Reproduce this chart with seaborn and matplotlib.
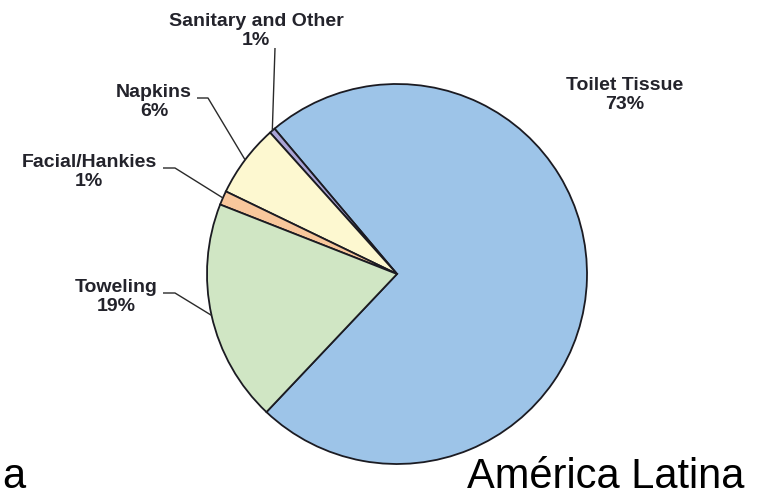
import numpy as np
import matplotlib
matplotlib.use("Agg")
import matplotlib.pyplot as plt
import seaborn as sns

# Data
categories = ["Toilet Tissue", "Sanitary and Other", "Napkins", "Facial/Hankies", "Toweling"]
shares = [73.2, 0.5, 6.2, 1.2, 18.9]
pct_labels = ["73%", "1%", "6%", "1%", "19%"]
colors = ["#9dc4e8", "#aaa4d6", "#fdf8d0", "#f8c79c", "#d0e6c4"]

sns.set_style("white")
plt.rcParams["font.family"] = ["Liberation Sans", "DejaVu Sans"]

W, H = 763, 498
fig = plt.figure(figsize=(W / 100, H / 100), dpi=100)
ax = fig.add_axes([0, 0, 1, 1])

# pixel helper: image y (top-down) -> data y (bottom-up)
def py(y):
    return H - y

cx, cy, r = 397, py(274), 190

wedges, _ = ax.pie(shares, colors=colors, startangle=226.6, counterclock=True,
                   center=(cx, cy), radius=r,
                   wedgeprops=dict(edgecolor="#1b1b22", linewidth=1.3))

ax.set_xlim(0, W)
ax.set_ylim(0, H)
ax.set_aspect("equal")
ax.axis("off")

# label layout: text centre, leader start, leader elbow (None = no leader)
layout = {
    "Toilet Tissue": ((625, 95), None, None),
    "Sanitary and Other": ((256, 31), (275, 48), None),
    "Napkins": ((154, 102), (197, 98), (208, 98)),
    "Facial/Hankies": ((89, 172), (163, 168), (175, 168)),
    "Toweling": ((116, 297), (163, 293), (175, 293)),
}

for w, name, pct in zip(wedges, categories, pct_labels):
    (tx, ty), start, elbow = layout[name]
    ax.text(tx, py(ty), f"{name}\n{pct}", ha="center", va="center",
            fontsize=14, fontweight="bold", color="#23232b", linespacing=1.15)
    if start is None:
        continue
    mid = np.deg2rad((w.theta1 + w.theta2) / 2)
    ax_x = cx + r * np.cos(mid)
    ax_y = cy + r * np.sin(mid)
    xs, ys = [start[0]], [py(start[1])]
    if elbow is not None:
        xs.append(elbow[0])
        ys.append(py(elbow[1]))
    xs.append(ax_x)
    ys.append(ax_y)
    ax.plot(xs, ys, color="#2a2a2a", linewidth=1.0, solid_capstyle="butt")

# region captions at the bottom
ax.text(2, py(488), "a", ha="left", va="baseline", fontsize=30, color="black")
ax.text(467, py(488), "América Latina", ha="left", va="baseline", fontsize=30, color="black")

fig.savefig("out.png", dpi=100, facecolor="white")
